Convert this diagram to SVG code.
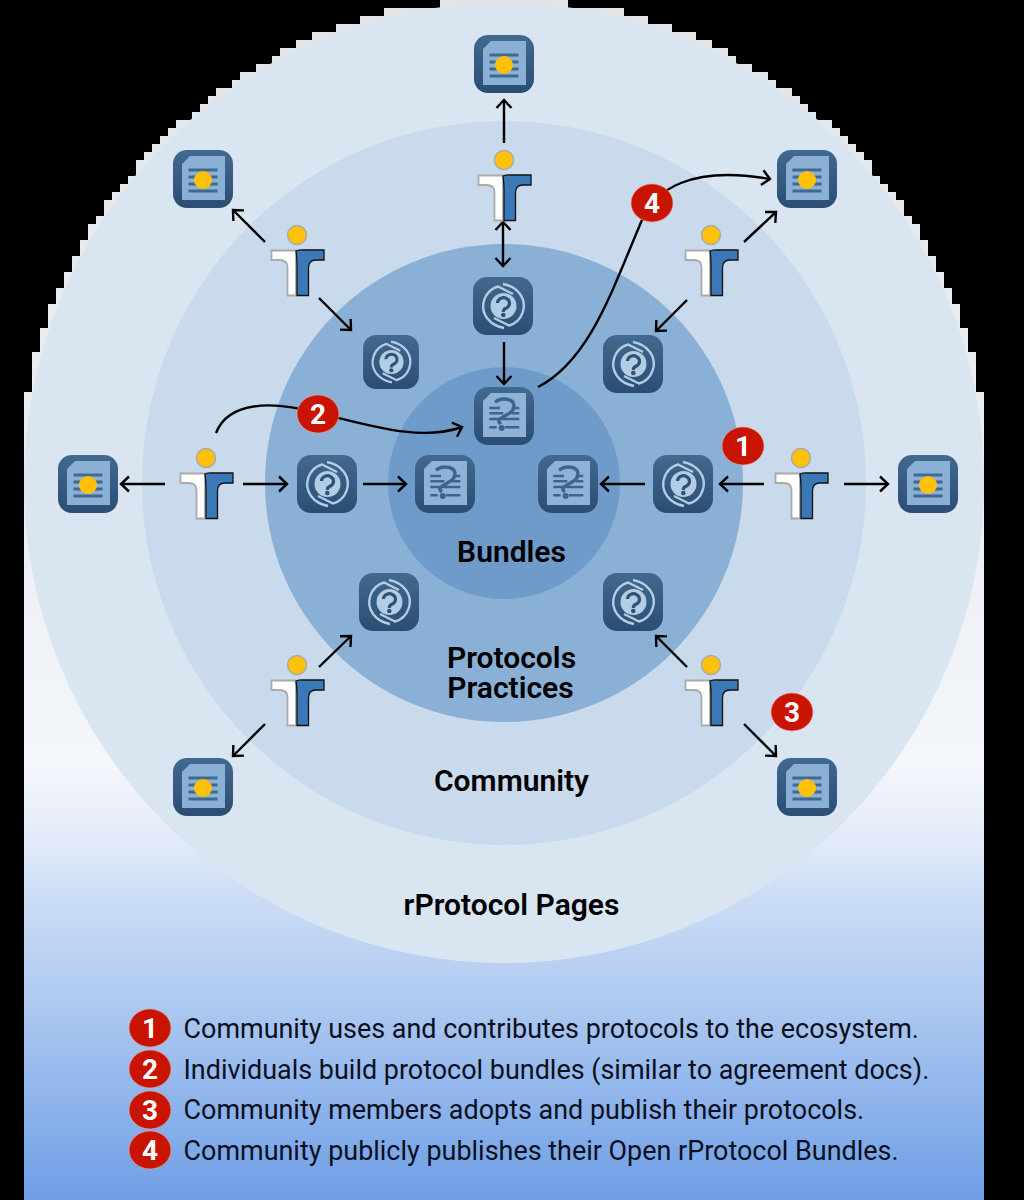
<svg xmlns="http://www.w3.org/2000/svg" xmlns:xlink="http://www.w3.org/1999/xlink" width="1024" height="1200" viewBox="0 0 1024 1200">
<style>
.ring{stroke:none}
.lbl{font-family:Roboto,"Liberation Sans",sans-serif;font-weight:600;font-size:30px;fill:#000;text-anchor:middle}
.leg{font-family:Roboto,"Liberation Sans",sans-serif;font-size:26.950px;fill:#0b1020}
.bt{font-family:Roboto,"Liberation Sans",sans-serif;font-weight:700;font-size:28px;fill:#fff;text-anchor:middle}
.bb{fill:#c81400;stroke:#e7a9a0;stroke-width:.6}
.c{fill:none;stroke:#000;stroke-width:2.4;stroke-linecap:butt}
.a{marker-end:url(#ah)}
.d{marker-start:url(#ahs);marker-end:url(#ah)}
</style>
<defs>
<linearGradient id="bg" gradientUnits="userSpaceOnUse" x1="0" y1="0" x2="0" y2="1200">
<stop offset="0" stop-color="#e3e4e6"/><stop offset=".5" stop-color="#eef1f6"/><stop offset=".64" stop-color="#f3f6fb"/><stop offset=".69" stop-color="#e6edf9"/><stop offset=".75" stop-color="#cbdcf5"/><stop offset=".84" stop-color="#adc8f0"/><stop offset="1" stop-color="#6e9fe6"/>
</linearGradient>
<linearGradient id="tile" x1="0" y1="0" x2="0" y2="1"><stop offset="0" stop-color="#42698f"/><stop offset="1" stop-color="#2b4d74"/></linearGradient>
<marker id="ah" markerUnits="userSpaceOnUse" markerWidth="20" markerHeight="20" refX="14" refY="10" orient="auto" overflow="visible"><path d="M6,2.5 L14,10 L6,17.5" fill="none" stroke="#000" stroke-width="2.4"/></marker>
<marker id="ahs" markerUnits="userSpaceOnUse" markerWidth="20" markerHeight="20" refX="6" refY="10" orient="auto" overflow="visible"><path d="M14,2.5 L6,10 L14,17.5" fill="none" stroke="#000" stroke-width="2.4"/></marker>
<symbol id="page" overflow="visible">
<rect x="-30" y="-29" width="60" height="58" rx="14" fill="url(#tile)"/>
<path d="M-13,-23 H22 V21 H-21 V-15 Z" fill="#8ab0d6"/>
<g fill="#41698f"><rect x="-14.500" y="-10.500" width="29" height="3"/><rect x="-14.500" y="-3.500" width="29" height="3"/><rect x="-14.500" y="3.500" width="29" height="3"/><rect x="-14.500" y="10.500" width="29" height="3"/></g>
<circle cx="0" cy="1" r="9" fill="#ffc107"/>
</symbol>
<symbol id="proto" overflow="visible">
<rect x="-30" y="-29" width="60" height="58" rx="14" fill="url(#tile)"/>
<g fill="none" stroke="#b4cde5" stroke-width="2.400">
<path d="M10,-12 L-5,-19.500 A20.500,20.500 0 0 0 -16,12 Q-10,20 1,22"/>
<path d="M-9,12 L6,19.500 A20.500,20.500 0 0 0 17,-12 Q11,-20 0,-22"/>
</g>
<circle cx="0.500" cy="0" r="13" fill="#b4cde5"/>
<path d="M-5.500,-3 A6,5.500 0 1 1 3.500,2 Q0.300,3 0.300,6" fill="none" stroke="#2f5279" stroke-width="3.200"/>
<circle cx="0.300" cy="9" r="2.300" fill="#2f5279"/>
</symbol>
<symbol id="bundle" overflow="visible">
<rect x="-30" y="-29" width="60" height="58" rx="14" fill="url(#tile)"/>
<path d="M-13,-23 H22 V21 H-21 V-15 Z" fill="#8fb3d8"/>
<g stroke="#3d658c" fill="none">
<path d="M-14.700,-8 H-4 M7.700,-8 H15.300 M-14.700,-2.700 H-0.700 M7.700,-2.700 H15.300 M-14.700,3 H15.300 M-14.700,11.300 H-7.300 M1,11.300 H15.300" stroke-width="2.600"/>
<path d="M-9,-13.700 Q-5,-17 -0.700,-17 Q10,-17 10,-10 Q10,-5 4,-2 Q-1,1 -4,3 Q-7,5 -3,8" stroke-width="3.400"/>
</g>
<circle cx="-2.300" cy="12" r="3" fill="#3d658c"/>
</symbol>
<symbol id="person" overflow="visible">
<path d="M-25.500,15.500 H-1 V60.500 H-9.500 V32 Q-9.500,25 -17.500,25 H-25.500 Z" fill="#fff" stroke="#aaa" stroke-width="1.800"/>
<path d="M-1,16 Q3,14.500 6,15 H27 V25 H19 Q11.500,25 11.500,33 V60.500 H0 V30 Q0,22 -1,16 Z" fill="#3a78b7" stroke="#111" stroke-width="1.300"/>
<circle cx="0" cy="0" r="9.500" fill="#ffc107" stroke="#aaa" stroke-width="1.500"/>
</symbol>
</defs>
<rect width="1024" height="1200" fill="#000"/>
<path id="backdrop" fill="url(#bg)" d="M24,1200 V392 H32 V352 H40 V328 H48 V304 H56 V288 H64 V272 H72 V256 H80 V240 H88 V224 H96 V216 H104 V200 H112 V192 H120 V184 H128 V176 H136 V160 H144 V152 H152 V144 H160 V136 H168 V128 H176 V120 H192 V112 H200 V104 H208 V96 H216 V88 H232 V80 H240 V72 H256 V64 H272 V56 H280 V48 H296 V40 H312 V32 H336 V24 H360 V16 H384 V8 H440 V0 H568 V8 H624 V16 H648 V24 H672 V32 H696 V40 H712 V48 H728 V56 H736 V64 H752 V72 H768 V80 H776 V88 H792 V96 H800 V104 H808 V112 H816 V120 H832 V128 H840 V136 H848 V144 H856 V152 H864 V160 H872 V176 H880 V184 H888 V192 H896 V200 H904 V216 H912 V224 H920 V240 H928 V256 H936 V272 H944 V288 H952 V304 H960 V328 H968 V352 H976 V392 H984 V1200 Z"/>
<g id="rings">
<circle class="ring" cx="504" cy="483" r="480" fill="#d9e5f1"/>
<circle class="ring" cx="504" cy="483" r="362" fill="#c9daec"/>
<circle class="ring" cx="504" cy="483" r="239" fill="#8ab0d6"/>
<circle class="ring" cx="504" cy="483" r="116" fill="#6e9bca"/>
</g>
<g id="ring-labels">
<text class="lbl" x="511.500" y="562">Bundles</text>
<text class="lbl" x="511.500" y="668">Protocols</text>
<text class="lbl" x="510.500" y="698">Practices</text>
<text class="lbl" x="511.500" y="791">Community</text>
<text class="lbl" x="511.500" y="915">rProtocol Pages</text>
</g>
<g id="connectors">
<path class="c a" d="M504,143 V100"/>
<path class="c d" d="M503,222 V266"/>
<path class="c a" d="M504,342 V384"/>
<path class="c a" d="M265,242 L233,210"/>
<path class="c a" d="M319,298 L351,330"/>
<path class="c a" d="M744,242 L776,212"/>
<path class="c a" d="M687,300 L656,331"/>
<path class="c a" d="M165,484 H121"/>
<path class="c a" d="M243,484 H287"/>
<path class="c a" d="M363,484 H406"/>
<path class="c a" d="M645,484 H601"/>
<path class="c a" d="M764,484 H720"/>
<path class="c a" d="M844,484 H888"/>
<path class="c a" d="M319,667 L351,636"/>
<path class="c a" d="M265,724 L233,756"/>
<path class="c a" d="M687,667 L656,636"/>
<path class="c a" d="M744,724 L776,756"/>
<path class="c a" d="M216,433 C228,402 270,400 318,413 C370,425 420,442 462,427"/>
<path class="c a" d="M538,387 C590,360 612,290 642,220 C655,190 690,165 770,179"/>
</g>
<g id="doc-top"><use href="#page" x="504" y="64"/></g>
<g id="doc-tl"><use href="#page" x="203" y="179"/></g>
<g id="doc-tr"><use href="#page" x="807" y="179"/></g>
<g id="doc-l"><use href="#page" x="88" y="484"/></g>
<g id="doc-r"><use href="#page" x="928" y="484"/></g>
<g id="doc-bl"><use href="#page" x="203" y="787"/></g>
<g id="doc-br"><use href="#page" x="807" y="787"/></g>
<g id="person-top"><use href="#person" x="504" y="160"/></g>
<g id="person-tl"><use href="#person" x="297" y="235"/></g>
<g id="person-tr"><use href="#person" x="711" y="235"/></g>
<g id="person-l"><use href="#person" x="206" y="458"/></g>
<g id="person-r"><use href="#person" x="801" y="458"/></g>
<g id="person-bl"><use href="#person" x="297" y="665"/></g>
<g id="person-br"><use href="#person" x="711" y="665"/></g>
<g id="proto-top"><use href="#proto" x="503" y="306"/></g>
<g id="proto-tl"><use href="#proto" transform="translate(391 362) scale(.93)"/></g>
<g id="proto-tr"><use href="#proto" x="633" y="364"/></g>
<g id="proto-l"><use href="#proto" x="327" y="484"/></g>
<g id="proto-r"><use href="#proto" x="683" y="484"/></g>
<g id="proto-bl"><use href="#proto" x="389" y="602"/></g>
<g id="proto-br"><use href="#proto" x="633" y="602"/></g>
<g id="bundle-top"><use href="#bundle" x="504" y="416"/></g>
<g id="bundle-l"><use href="#bundle" x="445" y="484"/></g>
<g id="bundle-r"><use href="#bundle" x="568" y="484"/></g>
<g id="badge-1"><ellipse class="bb" cx="743" cy="446" rx="21" ry="19"/><text class="bt" x="743" y="456">1</text></g>
<g id="badge-2"><ellipse class="bb" cx="318" cy="414" rx="21" ry="19"/><text class="bt" x="318" y="424">2</text></g>
<g id="badge-3"><ellipse class="bb" cx="792" cy="712" rx="21" ry="19"/><text class="bt" x="792" y="722">3</text></g>
<g id="badge-4"><ellipse class="bb" cx="652" cy="203" rx="21" ry="19"/><text class="bt" x="652" y="213">4</text></g>
<g id="legend">
<ellipse class="bb" cx="150" cy="1028" rx="21" ry="19"/><text class="bt" x="150" y="1038">1</text>
<ellipse class="bb" cx="150" cy="1069" rx="21" ry="19"/><text class="bt" x="150" y="1079">2</text>
<ellipse class="bb" cx="150" cy="1110" rx="21" ry="19"/><text class="bt" x="150" y="1120">3</text>
<ellipse class="bb" cx="150" cy="1150" rx="21" ry="19"/><text class="bt" x="150" y="1160">4</text>
<text class="leg" x="183.500" y="1038">Community uses and contributes protocols to the ecosystem.</text>
<text class="leg" x="183.500" y="1079">Individuals build protocol bundles (similar to agreement docs).</text>
<text class="leg" x="183.500" y="1119">Community members adopts and publish their protocols.</text>
<text class="leg" x="183.500" y="1160">Community publicly publishes their Open rProtocol Bundles.</text>
</g>
</svg>
